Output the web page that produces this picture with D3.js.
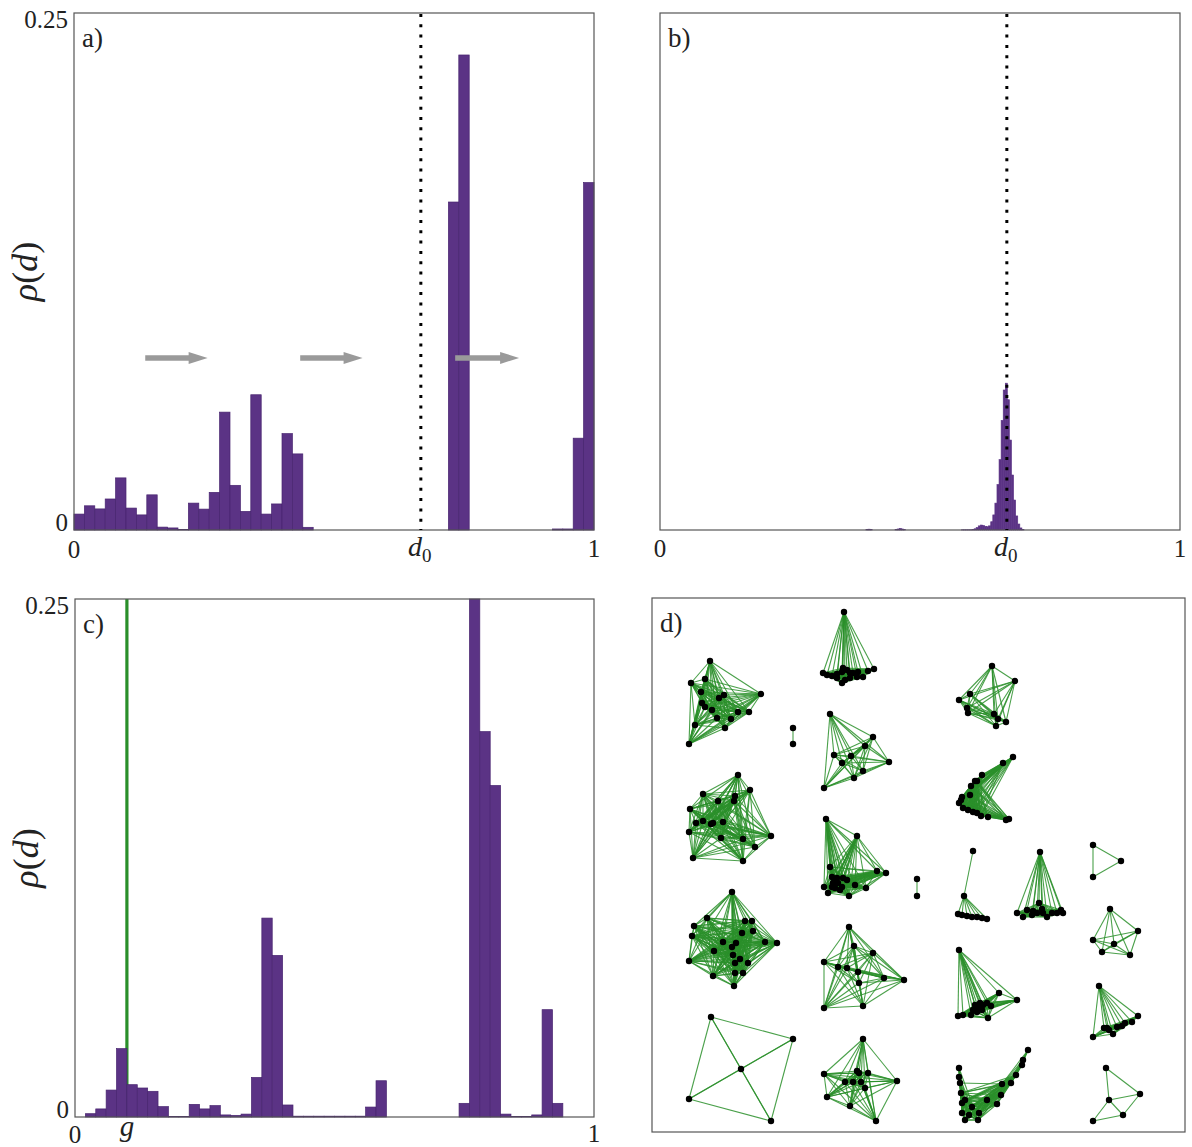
<!DOCTYPE html>
<html lang="en">
<head>
<meta charset="UTF-8">
<title>rho(d) histograms and networks</title>
<script src="https://d3js.org/d3.v7.min.js"></script>
<style>
  body { margin: 0; background: #fff; overflow: hidden; }
</style>
</head>
<body>
<script>
// ---- data -------------------------------------------------------------
// panel a: 50 bins of width 0.02 on [0,1]
var binsA = [0.0077, 0.0117, 0.0102, 0.015, 0.0252, 0.0106, 0.0073, 0.017, 0.0014, 0.001,
             0.0003, 0.013, 0.0101, 0.0182, 0.057, 0.0216, 0.009, 0.0654, 0.0077, 0.0126,
             0.0466, 0.0368, 0.0013, 0, 0, 0, 0, 0, 0, 0,
             0, 0, 0, 0, 0, 0, 0.1586, 0.2297, 0, 0,
             0, 0, 0, 0, 0, 0, 0.0005, 0.0005, 0.0444, 0.168]
// panel b: fine bins of width 0.004 starting at 0.38
var startB = 0.38, widthB = 0.004
var binsB = [0, 0, 0, 0, 0.0002, 0.0004, 0.0002, 0, 0, 0,
             0, 0, 0, 0, 0, 0, 0, 0, 0.0002, 0.0005,
             0.0008, 0.0005, 0.0002, 0, 0, 0, 0, 0, 0, 0,
             0, 0, 0, 0, 0, 0, 0, 0, 0, 0,
             0, 0, 0, 0, 0, 0, 0, 0, 0, 0,
             0.0001, 0.0001, 0.0001, 0.0001, 0.0001, 0.0002, 0.0006, 0.0012, 0.002, 0.0024,
             0.0022, 0.0018, 0.0016, 0.002, 0.004, 0.0073, 0.013, 0.022, 0.034, 0.053,
             0.0677, 0.071, 0.063, 0.0435, 0.0266, 0.0145, 0.0068, 0.0029, 0.001, 0.0003]
// panel c: 50 bins of width 0.02 on [0,1]
var binsC = [0, 0.0016, 0.0039, 0.013, 0.033, 0.0156, 0.014, 0.0124, 0.005, 0.0003,
             0.0003, 0.0061, 0.0039, 0.0055, 0.001, 0.0008, 0.0014, 0.0191, 0.096, 0.078,
             0.0058, 0.0004, 0.0004, 0.0004, 0.0004, 0.0004, 0.0004, 0.0004, 0.0048, 0.0175,
             0, 0, 0, 0, 0, 0, 0, 0.0066, 0.25, 0.186,
             0.16, 0.0014, 0.0003, 0.0003, 0.001, 0.0518, 0.0066, 0, 0, 0]
var d0 = 0.667
var gValue = 0.1
// gray arrows in panel a: [from, to] at height arrowY
var arrowsA = [[0.137, 0.257], [0.435, 0.555], [0.733, 0.856]]
var arrowY = 0.0832

// panel d: node layouts of each component (panel pixel units)
var netNodes = [
  [[58,63],[39,85],[53,81],[49,94],[67,100],[72,97],[50,105],[53,109],[60,112],[86,114],[97,114],[65,120],[79,121],[73,130],[43,127],[37,146],[109,96]],
  [[192,14],[171,75],[175,77],[180,78],[185,76],[190,74],[191,70],[195,72],[198,75],[201,75],[206,74],[211,79],[216,73],[222,71],[190,85],[193,82],[185,80],[198,80],[205,79]],
  [[141,130],[141,146]],
  [[178,116],[221,139],[213,148],[237,164],[182,157],[199,158],[190,165],[211,173],[202,180],[172,190]],
  [[340,68],[363,83],[318,96],[307,102],[315,110],[316,115],[342,116],[346,121],[354,124],[344,128]],
  [[361,159],[351,165],[330,177],[325,183],[323,183],[319,188],[318,197],[310,199],[309,202],[307,205],[311,210],[316,212],[321,214],[325,215],[329,218],[336,219],[354,222],[357,221]],
  [[86,177],[51,196],[98,192],[38,211],[66,203],[83,198],[82,203],[44,225],[51,223],[59,226],[61,225],[71,224],[37,234],[69,240],[91,241],[119,238],[103,249],[41,260],[91,263]],
  [[174,221],[205,238],[225,273],[234,275],[178,269],[180,279],[183,282],[186,285],[191,280],[195,282],[172,289],[176,295],[188,292],[197,298],[203,287],[214,290],[180,289],[183,290],[190,289],[181,285],[185,280]],
  [[265,281],[265,298]],
  [[80,294],[55,320],[42,328],[40,338],[93,323],[100,323],[90,335],[101,333],[71,344],[84,345],[80,349],[62,353],[113,344],[125,345],[81,357],[88,361],[96,365],[83,365],[37,363],[61,378],[91,375],[83,375],[82,388]],
  [[197,329],[202,348],[221,355],[172,364],[186,369],[195,370],[206,374],[207,385],[232,380],[252,382],[172,410],[211,408]],
  [[59,419],[141,441],[89,471],[37,501],[119,523]],
  [[211,441],[172,476],[205,473],[207,475],[216,475],[193,484],[201,484],[209,484],[245,483],[213,490],[175,499],[198,508],[224,523]],
  [[321,253],[312,298],[306,316],[310,317],[315,318],[320,319],[325,319],[330,320],[335,321]],
  [[388,254],[365,315],[371,319],[375,312],[381,313],[385,315],[387,305],[390,311],[395,319],[400,315],[405,315],[409,312],[411,315],[380,317],[391,315]],
  [[441,247],[469,263],[441,279]],
  [[458,311],[486,333],[441,342],[462,346],[450,354],[478,357]],
  [[307,352],[347,395],[365,402],[306,418],[311,417],[319,417],[321,412],[326,409],[331,407],[335,405],[339,408],[336,420],[325,414],[330,412],[328,405],[323,407]],
  [[447,388],[486,418],[441,439],[452,430],[457,432],[461,436],[465,429],[470,428],[473,425],[480,424],[455,430]],
  [[376,452],[371,462],[370,467],[364,477],[359,485],[350,486],[349,497],[345,506],[335,502],[327,515],[326,522],[317,517],[313,522],[310,515],[310,505],[309,495],[308,485],[307,479],[307,470],[313,502],[320,509]],
  [[454,470],[488,496],[457,502],[471,517],[441,523]]
]
// components that are not one clique: lists of node groups, each group fully connected
var netGroups = {
  5: [[0,1,2,3,4,5,6,7,8,9,10,11,12,13,14], [3,4,5,6,7,8,9,10,11,12,13,14,15,16,17]],
  11: [[0,1], [1,4], [4,3], [3,0], [0,2,4], [3,2,1]],
  13: [[0,1], [1,2,3,4,5,6,7,8]],
  15: [[0,1,2]],
  19: [[0,1,2,3,4,5,6], [3,4,5,6,7,8,9,10,11,12,13,14,15,19,20], [10,11,12,13,14,15,16,17,18], [16,5]],
  20: [[0,1,2], [1,3], [2,3,4]]
}

// ---- layout -----------------------------------------------------------
var width = 1192, height = 1147
var purple = "#5b3385", purpleEdge = "#48246f"
var green = "#2a8f2a"
var serif = "'Liberation Serif', 'Times New Roman', Times, 'DejaVu Serif', serif"

var svg = d3.select("body").append("svg")
    .attr("width", width)
    .attr("height", height)
    .attr("font-family", serif)
    .style("font-family", serif)

var panels = {
  a: {x0: 74, x1: 594, y0: 13, y1: 530},
  b: {x0: 660, x1: 1180, y0: 13, y1: 530},
  c: {x0: 75, x1: 594, y0: 599, y1: 1117},
  d: {x0: 652, x1: 1185, y0: 598, y1: 1132}
}

function scalesFor(p) {
  return {
    x: d3.scaleLinear().domain([0, 1]).range([p.x0, p.x1]),
    y: d3.scaleLinear().domain([0, 0.25]).range([p.y1, p.y0])
  }
}

function drawBars(g, s, bins, start, w, stroke, sw) {
  g.append("g").selectAll("rect")
    .data(bins.map(function (v, i) { return {x0: start + i * w, x1: start + (i + 1) * w, v: Math.min(v, 0.25)} }))
    .enter().append("rect")
    .attr("x", function (d) { return s.x(d.x0) })
    .attr("width", function (d) { return s.x(d.x1) - s.x(d.x0) })
    .attr("y", function (d) { return s.y(d.v) })
    .attr("height", function (d) { return s.y(0) - s.y(d.v) })
    .style("fill", purple)
    .style("stroke", stroke)
    .style("stroke-width", sw)
}

function drawBox(p) {
  svg.append("rect")
    .attr("x", p.x0).attr("y", p.y0)
    .attr("width", p.x1 - p.x0).attr("height", p.y1 - p.y0)
    .style("fill", "none").style("stroke", "#555").style("stroke-width", 1.2)
}

function dottedLine(s, xv) {
  svg.append("line")
    .attr("x1", s.x(xv)).attr("x2", s.x(xv))
    .attr("y1", s.y(0.25) + 1).attr("y2", s.y(0))
    .style("stroke", "#000").style("stroke-width", 3)
    .style("stroke-dasharray", "3,7.3")
}

function panelLabel(p, txt, dy) {
  svg.append("text").attr("x", p.x0 + 8).attr("y", p.y0 + dy)
    .style("font-size", "27px").style("fill", "#222").text(txt)
}

function yLabels(s, p) {
  svg.append("text").attr("x", p.x0 - 6).attr("y", s.y(0.25) + 15)
    .attr("text-anchor", "end").style("font-size", "25px").style("fill", "#222").text("0.25")
  svg.append("text").attr("x", p.x0 - 6).attr("y", s.y(0) + 1)
    .attr("text-anchor", "end").style("font-size", "25px").style("fill", "#222").text("0")
  var t = svg.append("text")
    .attr("transform", "translate(" + (p.x0 - 37) + "," + ((p.y0 + p.y1) / 2) + ") rotate(-90)")
    .attr("text-anchor", "middle").style("font-size", "36px").style("fill", "#222")
  t.append("tspan").style("font-style", "italic").text("ρ")
  t.append("tspan").text("(")
  t.append("tspan").style("font-style", "italic").text("d")
  t.append("tspan").text(")")
}

function xLabel(s, xv, yb, txt) {
  svg.append("text").attr("x", s.x(xv)).attr("y", yb)
    .attr("text-anchor", "middle").style("font-size", "25px").style("fill", "#222").text(txt)
}

function d0Label(s, yb) {
  var t = svg.append("text").attr("x", s.x(d0) - 1).attr("y", yb)
    .attr("text-anchor", "middle").style("font-size", "28px").style("fill", "#222")
  t.append("tspan").style("font-style", "italic").text("d")
  t.append("tspan").attr("dy", 6).style("font-size", "19px").text("0")
}

// ---- panel a ----------------------------------------------------------
var pa = panels.a, sa = scalesFor(pa)
var ga = svg.append("g")
drawBars(ga, sa, binsA, 0, 0.02, purpleEdge, 0.7)
ga.selectAll("path.arrow")
  .data(arrowsA)
  .enter().append("path")
  .attr("class", "arrow")
  .attr("d", function (d) {
    var xa = sa.x(d[0]), xb = sa.x(d[1]), yc = sa.y(arrowY), xh = xb - 19
    return "M" + xa + "," + (yc - 2.7) + "L" + xh + "," + (yc - 2.7) + "L" + xh + "," + (yc - 6) +
      "L" + xb + "," + yc + "L" + xh + "," + (yc + 6) + "L" + xh + "," + (yc + 2.7) +
      "L" + xa + "," + (yc + 2.7) + "Z"
  })
  .style("fill", "#9a9a9a")
drawBox(pa)
dottedLine(sa, d0)
yLabels(sa, pa)
xLabel(sa, 0, 558, "0")
xLabel(sa, 1, 557, "1")
d0Label(sa, 556)
panelLabel(pa, "a)", 34)

// ---- panel b ----------------------------------------------------------
var pb = panels.b, sb = scalesFor(pb)
var gb = svg.append("g")
drawBars(gb, sb, binsB, startB, widthB, purple, 0.6)
drawBox(pb)
dottedLine(sb, d0)
xLabel(sb, 0, 557, "0")
xLabel(sb, 1, 557, "1")
d0Label(sb, 556)
panelLabel(pb, "b)", 34)

// ---- panel c ----------------------------------------------------------
var pc = panels.c, sc = scalesFor(pc)
svg.append("line")
  .attr("x1", sc.x(gValue)).attr("x2", sc.x(gValue))
  .attr("y1", sc.y(0.25)).attr("y2", sc.y(0))
  .style("stroke", green).style("stroke-width", 3.2)
var gc = svg.append("g")
drawBars(gc, sc, binsC, 0, 0.02, purpleEdge, 0.7)
drawBox(pc)
yLabels(sc, pc)
xLabel(sc, 0, 1143, "0")
xLabel(sc, 1, 1142, "1")
svg.append("text").attr("x", sc.x(gValue)).attr("y", 1136)
  .attr("text-anchor", "middle").style("font-size", "29px").style("font-style", "italic")
  .style("fill", "#222").text("g")
panelLabel(pc, "c)", 34)

// ---- panel d ----------------------------------------------------------
var pd = panels.d
var xd = d3.scaleLinear().domain([0, pd.x1 - pd.x0]).range([pd.x0, pd.x1])
var yd = d3.scaleLinear().domain([0, pd.y1 - pd.y0]).range([pd.y0, pd.y1])
drawBox(pd)
var links = []
netNodes.forEach(function (nodes, ci) {
  var groups = netGroups[ci] || [d3.range(nodes.length)]
  groups.forEach(function (grp) {
    for (var i = 0; i < grp.length; i++)
      for (var j = i + 1; j < grp.length; j++) links.push([nodes[grp[i]], nodes[grp[j]]])
  })
})
var gd = svg.append("g")
gd.selectAll("line")
  .data(links)
  .enter().append("line")
  .attr("x1", function (d) { return xd(d[0][0]) })
  .attr("y1", function (d) { return yd(d[0][1]) })
  .attr("x2", function (d) { return xd(d[1][0]) })
  .attr("y2", function (d) { return yd(d[1][1]) })
  .style("stroke", green).style("stroke-width", 1.1).style("stroke-opacity", 0.85)
gd.selectAll("circle")
  .data(d3.merge(netNodes))
  .enter().append("circle")
  .attr("cx", function (d) { return xd(d[0]) })
  .attr("cy", function (d) { return yd(d[1]) })
  .attr("r", 3.2)
  .style("fill", "#000")
panelLabel(pd, "d)", 34)
</script>
</body>
</html>
